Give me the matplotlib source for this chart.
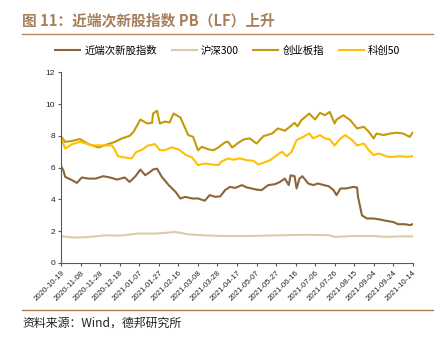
import numpy as np
import pandas as pd
import matplotlib
matplotlib.use('Agg')
import matplotlib.pyplot as plt
import matplotlib.dates as mdates
from matplotlib.lines import Line2D

plt.rcParams['font.family'] = ['Noto Sans CJK SC', 'DejaVu Sans']

start = pd.Timestamp('2020-10-19')

# 近端次新股指数
cx_days = [0, 2, 4, 11, 16, 21, 28, 35, 43, 50, 57, 65, 70, 76, 81, 86, 91, 94, 98, 103,
           110, 117, 122, 127, 134, 140, 147, 152, 158, 163, 168, 173, 178, 185, 190, 195, 200, 205, 212, 219,
           224, 229, 233, 235, 239, 241, 244, 247, 253, 258, 263, 269, 274, 279, 282, 286, 292, 299, 303, 304,
           308, 313, 320, 327, 333, 340, 345, 352, 357, 360]
cx_pb = [6.05, 5.84, 5.42, 5.21, 5.04, 5.38, 5.31, 5.31, 5.46, 5.38, 5.25, 5.38, 5.1, 5.46, 5.88, 5.52, 5.73, 5.88, 5.94, 5.42,
         4.9, 4.48, 4.06, 4.16, 4.06, 4.06, 3.92, 4.27, 4.16, 4.2, 4.6, 4.79, 4.72, 4.9, 4.75, 4.69, 4.62, 4.58, 4.9, 4.96,
         5.1, 5.31, 4.9, 5.52, 5.46, 4.69, 5.31, 5.46, 5.0, 4.9, 5.0, 4.9, 4.83, 4.58, 4.27, 4.69, 4.69, 4.79, 4.75, 4.16,
         3.0, 2.8, 2.8, 2.73, 2.65, 2.58, 2.44, 2.44, 2.38, 2.44]

# 沪深300
hs_days = [0, 7, 14, 25, 45, 60, 79, 96, 108, 115, 122, 130, 147, 163, 178, 197, 221, 248, 265, 275,
           280, 300, 320, 333, 345, 360]
hs_pb = [1.68, 1.63, 1.6, 1.62, 1.74, 1.72, 1.85, 1.85, 1.9, 1.95, 1.9, 1.8, 1.74, 1.7, 1.7, 1.7, 1.74, 1.77, 1.76, 1.74,
         1.64, 1.7, 1.7, 1.64, 1.67, 1.68]

# 创业板指
cy_days = [0, 4, 11, 19, 28, 38, 48, 55, 62, 70, 74, 81, 88, 93, 94, 98, 101, 106, 111, 115,
           122, 127, 130, 135, 140, 144, 151, 156, 161, 166, 169, 171, 175, 178, 181, 187, 193, 200, 207, 216,
           222, 229, 234, 239, 242, 246, 254, 260, 265, 270, 275, 280, 282, 289, 296, 303, 310, 315, 320, 323,
           330, 337, 344, 350, 357, 360]
cy_pb = [7.94, 7.62, 7.68, 7.8, 7.48, 7.27, 7.48, 7.62, 7.84, 8.0, 8.25, 9.03, 8.78, 8.82, 9.41, 9.58, 8.78, 8.9, 8.85, 9.41,
         9.16, 8.47, 8.05, 7.94, 7.1, 7.31, 7.15, 7.1, 7.27, 7.52, 7.62, 7.62, 7.27, 7.4, 7.55, 7.78, 7.84, 7.52, 7.98, 8.15,
         8.47, 8.32, 8.57, 8.82, 8.6, 8.99, 9.41, 9.03, 9.45, 9.3, 9.51, 8.78, 9.03, 9.3, 8.99, 8.47, 8.57, 8.26, 7.84, 8.15,
         8.05, 8.15, 8.2, 8.15, 7.94, 8.2]

# 科创50
kc_days = [0, 4, 11, 19, 24, 31, 38, 45, 52, 55, 58, 65, 72, 77, 82, 89, 96, 101, 106, 113,
           120, 128, 134, 140, 147, 154, 161, 164, 168, 171, 176, 183, 190, 197, 202, 207, 214, 221, 226, 231,
           236, 241, 248, 254, 258, 265, 270, 275, 280, 286, 291, 298, 303, 310, 315, 320, 325, 330, 335, 340,
           347, 354, 360]
kc_pb = [7.84, 7.2, 7.48, 7.62, 7.55, 7.4, 7.4, 7.4, 7.4, 7.1, 6.72, 6.64, 6.58, 7.0, 7.1, 7.4, 7.48, 7.1, 7.1, 7.27,
         7.15, 6.79, 6.64, 6.16, 6.26, 6.2, 6.16, 6.37, 6.5, 6.58, 6.5, 6.58, 6.47, 6.43, 6.2, 6.3, 6.47, 6.79, 7.0, 6.72,
         7.0, 7.73, 7.94, 8.15, 7.84, 8.05, 7.84, 7.78, 7.4, 7.84, 8.05, 7.73, 7.4, 7.52, 7.1, 6.79, 6.89, 6.79, 6.68, 6.68,
         6.72, 6.68, 6.72]

series = [
    ('近端次新股指数', cx_days, cx_pb, '#8B6535'),
    ('沪深300', hs_days, hs_pb, '#DCCBA6'),
    ('创业板指', cy_days, cy_pb, '#C49A0A'),
    ('科创50', kc_days, kc_pb, '#FFC000'),
]

fig = plt.figure(figsize=(4.42, 3.38), dpi=100)

# title and rules
fig.text(0.05, 0.94, '图 11：近端次新股指数 PB（LF）上升', fontsize=10.6, fontweight='bold',
         color='#A5805A', va='center', ha='left')
fig.add_artist(Line2D([0.05, 0.98], [0.899, 0.899], color='#B8865A', lw=1.0))
fig.add_artist(Line2D([0.05, 0.98], [0.083, 0.083], color='#B07C50', lw=1.0))
fig.text(0.05, 0.044, '资料来源：Wind，德邦研究所', fontsize=8.6, color='#222222', va='center', ha='left')

ax = fig.add_axes([0.1387, 0.222, 0.795, 0.564])
for name, d, v, c in series:
    dates = start + pd.to_timedelta(d, unit='D')
    ax.plot(dates, v, color=c, lw=1.5, label=name)

ax.set_ylim(0, 12)
ax.set_yticks(range(0, 13, 2))
ax.set_xlim(start, pd.Timestamp('2021-10-14'))
ticks = pd.date_range('2020-10-19', '2021-10-14', freq='20D')
ax.set_xticks(ticks)
ax.xaxis.set_major_formatter(mdates.DateFormatter('%Y-%m-%d'))
for lab in ax.get_xticklabels():
    lab.set_rotation(45)
    lab.set_ha('right')
    lab.set_rotation_mode('anchor')
    lab.set_fontfamily('Liberation Sans')
    lab.set_fontsize(5.6)
for lab in ax.get_yticklabels():
    lab.set_fontfamily('Liberation Sans')
    lab.set_fontsize(6)

for s in ['top', 'right']:
    ax.spines[s].set_visible(False)
for s in ['left', 'bottom']:
    ax.spines[s].set_color('#595959')
    ax.spines[s].set_linewidth(0.8)
ax.tick_params(axis='both', direction='out', length=2.5, width=0.8, color='#595959',
               labelcolor='#222222', pad=2)

fig.legend(loc='center', bbox_to_anchor=(0.515, 0.849), ncol=4, frameon=False,
           fontsize=7.5, handlelength=2.4, columnspacing=1.4, handletextpad=0.4)

fig.savefig('out.png', dpi=100)
